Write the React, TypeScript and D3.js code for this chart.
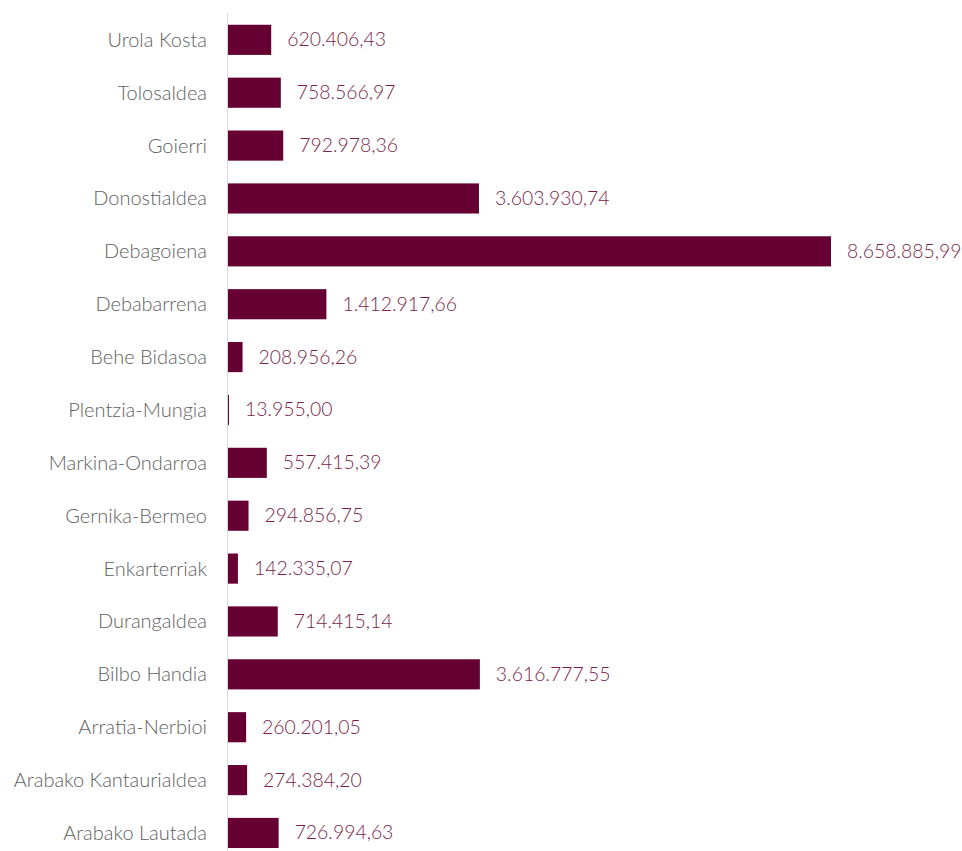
import * as d3 from "d3";

const categories = [
  "Urola Kosta",
  "Tolosaldea",
  "Goierri",
  "Donostialdea",
  "Debagoiena",
  "Debabarrena",
  "Behe Bidasoa",
  "Plentzia-Mungia",
  "Markina-Ondarroa",
  "Gernika-Bermeo",
  "Enkarterriak",
  "Durangaldea",
  "Bilbo Handia",
  "Arratia-Nerbioi",
  "Arabako Kantaurialdea",
  "Arabako Lautada",
];

const values = [
  620406.43, 758566.97, 792978.36, 3603930.74, 8658885.99, 1412917.66,
  208956.26, 13955.0, 557415.39, 294856.75, 142335.07, 714415.14,
  3616777.55, 260201.05, 274384.2, 726994.63,
];

const valueLabels = [
  "620.406,43",
  "758.566,97",
  "792.978,36",
  "3.603.930,74",
  "8.658.885,99",
  "1.412.917,66",
  "208.956,26",
  "13.955,00",
  "557.415,39",
  "294.856,75",
  "142.335,07",
  "714.415,14",
  "3.616.777,55",
  "260.201,05",
  "274.384,20",
  "726.994,63",
];

const width = 962;
const height = 851;
const axisX = 228;
const font = "Lato, 'Open Sans', sans-serif";

export default function App() {
  const x = d3.scaleLinear([0, 8658885.99], [axisX, 831]);
  const y = d3
    .scaleBand<string>()
    .domain(categories)
    .range([13.4, 859.4])
    .paddingInner(0.43)
    .paddingOuter(0.215);

  return (
    <div style={{ position: "absolute", left: 0, top: 0 }}>
      <svg width={width} height={height} style={{ display: "block", background: "#fff" }}>
        <g>
          {categories.map((c, i) => (
            <rect
              key={c}
              x={axisX}
              y={y(c)}
              width={x(values[i]) - axisX}
              height={y.bandwidth()}
              fill="#660033"
            />
          ))}
        </g>
        <line x1={axisX - 0.5} x2={axisX - 0.5} y1={13} y2={height} stroke="#d9d9d9" strokeWidth={1} />
        <g fontFamily={font} fontWeight={300}>
          {categories.map((c, i) => {
            const cy = (y(c) ?? 0) + y.bandwidth() / 2 - 1;
            return (
              <g key={c}>
                <text x={207} y={cy} fontSize={20} textAnchor="end" dominantBaseline="central" fill="#5f5f5f">
                  {c}
                </text>
                <text x={x(values[i]) + 16} y={cy} fontSize={19.4} dominantBaseline="central" fill="#7a1f4c">
                  {valueLabels[i]}
                </text>
              </g>
            );
          })}
        </g>
      </svg>
    </div>
  );
}
